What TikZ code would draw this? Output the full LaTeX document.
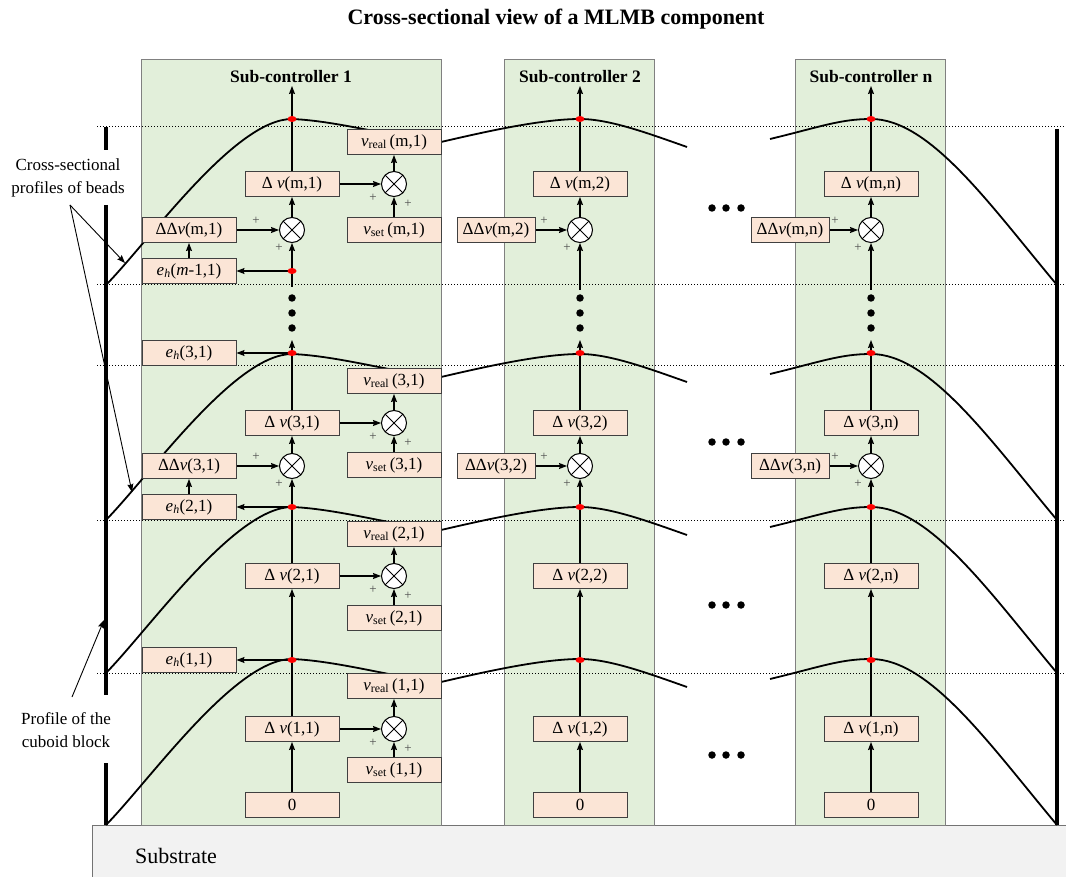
\documentclass[tikz,border=0pt]{standalone}
\usepackage{fontspec}
\setmainfont{Liberation Serif}
\usetikzlibrary{arrows.meta,shapes.geometric}
\definecolor{colgreen}{HTML}{E2EFDA}
\definecolor{boxpeach}{HTML}{FBE5D6}
\definecolor{subgray}{HTML}{F2F2F2}

\begin{document}
\begin{tikzpicture}[x=1pt,y=-1pt,>={Stealth[length=8pt,width=6pt,inset=1pt]},
    box/.style={draw=black!75,fill=boxpeach,line width=1pt,minimum width=94pt,minimum height=25pt,inner sep=0pt,font=\fontsize{17}{20}\selectfont},
    sbox/.style={box,minimum width=78pt},
    sum/.style={circle,draw,fill=white,line width=1pt,minimum size=25pt,inner sep=0pt,
        path picture={\draw[line width=1pt] (path picture bounding box.north west) -- (path picture bounding box.south east)
                      (path picture bounding box.north east) -- (path picture bounding box.south west);}},
    pk/.style={ellipse,fill=red,minimum width=9pt,minimum height=6pt,inner sep=0pt},
    bul/.style={circle,fill=black,minimum size=7.5pt,inner sep=0pt},
    pl/.style={font=\fontsize{13}{13}\selectfont,text=black!70,inner sep=0pt},
    lnk/.style={->,line width=1.1pt},
    bead/.style={line width=1.8pt},
    layer/.style={dotted,line width=1pt},
    col/.style={draw=black!50,fill=colgreen,line width=0.8pt},
    hd/.style={font=\fontsize{17.5}{20}\selectfont\bfseries},
    note/.style={font=\fontsize{17}{23}\selectfont,align=center,inner sep=0pt}]

\useasboundingbox (0,0) rectangle (1066,877);

% substrate and sub-controller columns
\draw[draw=black!55,fill=subgray,line width=1pt] (92,825) rectangle (1075,885);
\node[font=\fontsize{22}{24}\selectfont] (sub) at (176,856) {Substrate};
\foreach \xa/\xb in {141/441,504/654,795/945}
    \draw[col] (\xa,59) rectangle (\xb,825);

\node[font=\fontsize{22}{26}\selectfont\bfseries] (title) at (556,19) {Cross-sectional view of a MLMB component};
\node[hd] (hd1) at (291,77) {Sub-controller 1};
\node[hd] (hd2) at (580,77) {Sub-controller 2};
\node[hd] (hdn) at (871,77) {Sub-controller n};

% layer boundaries
\foreach \y in {127,285,366,520,673}
    \draw[layer] (97,\y) -- (1066,\y);

% cuboid block
\draw[line width=4pt] (106,127) -- (106,150) (106,205) -- (106,695) (106,763) -- (106,825);
\draw[line width=4pt] (1057,129) -- (1057,825);

% bead profiles
\foreach \b [evaluate=\b as \p using int(\b-166)] in {825,673,520,285} {
    \draw[bead] (106,\b) .. controls (150,\b-45) and (235,\p) .. (292,\p)
        .. controls (340,\p+2) and (400,\p+20) .. (441,\p+23)
        .. controls (480,\p+14) and (540,\p) .. (580,\p)
        .. controls (610,\p) and (650,\p+15) .. (687,\p+28);
    \draw[bead] (770,\p+20) .. controls (820,\p+8) and (840,\p) .. (871,\p)
        .. controls (930,\p) and (990,\b-80) .. (1057,\b);
}

% sub-controller 1
\node[box] (z1) at (292,805) {0};
\node[box] (d11) at (292,729) {Δ \textit{v}(1,1)};
\node[sum] (q11) at (394,729) {};
\node[box] (vs11) at (394,770) {\textit{v}\textsubscript{set}\,(1,1)};
\node[box] (vr11) at (394,686) {\textit{v}\textsubscript{real}\,(1,1)};
\node[box] (e11) at (189,660) {\textit{e}\textsubscript{\textit{h}}(1,1)};

\node[box] (d21) at (292,576) {Δ \textit{v}(2,1)};
\node[sum] (q21) at (394,576) {};
\node[box] (vs21) at (394,618) {\textit{v}\textsubscript{set}\,(2,1)};
\node[box] (vr21) at (394,534) {\textit{v}\textsubscript{real}\,(2,1)};
\node[box] (e21) at (189,507) {\textit{e}\textsubscript{\textit{h}}(2,1)};

\node[box] (dd31) at (189,466) {ΔΔ\textit{v}(3,1)};
\node[sum] (a31) at (292,466) {};
\node[box] (d31) at (292,423) {Δ \textit{v}(3,1)};
\node[sum] (q31) at (394,423) {};
\node[box] (vs31) at (394,465) {\textit{v}\textsubscript{set}\,(3,1)};
\node[box] (vr31) at (394,381) {\textit{v}\textsubscript{real}\,(3,1)};
\node[box] (e31) at (189,353) {\textit{e}\textsubscript{\textit{h}}(3,1)};

\node[box] (em1) at (189,271) {\textit{e}\textsubscript{\textit{h}}(\textit{m}-1,1)};
\node[box] (ddm1) at (189,230) {ΔΔ\textit{v}(m,1)};
\node[sum] (am1) at (292,230) {};
\node[box] (dm1) at (292,184) {Δ \textit{v}(m,1)};
\node[sum] (qm1) at (394,184) {};
\node[box] (vsm1) at (394,230) {\textit{v}\textsubscript{set}\,(m,1)};
\node[box] (vrm1) at (394,142) {\textit{v}\textsubscript{real}\,(m,1)};

\coordinate (pk11) at (292,660);
\coordinate (pk21) at (292,507);
\coordinate (pk31) at (292,353);
\coordinate (pkx1) at (292,271);
\coordinate (pkm1) at (292,119);
\coordinate (up1) at (292,340);
\coordinate (low1) at (292,287);
\coordinate (top1) at (292,86);

\draw[lnk] (z1) -- (d11);
\draw[lnk] (d11) -- (q11);
\draw[lnk] (vs11) -- (q11);
\draw[lnk] (q11) -- (vr11);
\draw[lnk] (d11) -- (d21);
\draw[lnk] (pk11) -- (e11);
\draw[lnk] (d21) -- (q21);
\draw[lnk] (vs21) -- (q21);
\draw[lnk] (q21) -- (vr21);
\draw[lnk] (d21) -- (a31);
\draw[lnk] (pk21) -- (e21);
\draw[lnk] (e21) -- (dd31);
\draw[lnk] (dd31) -- (a31);
\draw[lnk] (a31) -- (d31);
\draw[lnk] (d31) -- (q31);
\draw[lnk] (vs31) -- (q31);
\draw[lnk] (q31) -- (vr31);
\draw[lnk] (d31) -- (up1);
\draw[lnk] (pk31) -- (e31);
\draw[lnk] (low1) -- (am1);
\draw[lnk] (pkx1) -- (em1);
\draw[lnk] (em1) -- (ddm1);
\draw[lnk] (ddm1) -- (am1);
\draw[lnk] (am1) -- (dm1);
\draw[lnk] (dm1) -- (qm1);
\draw[lnk] (vsm1) -- (qm1);
\draw[lnk] (qm1) -- (vrm1);
\draw[lnk] (dm1) -- (top1);

% sub-controllers 2 and n
\foreach \cx/\c/\dx in {580/2/496,871/n/790} {
    \node[box] (z\c) at (\cx,805) {0};
    \node[box] (d1\c) at (\cx,729) {Δ \textit{v}(1,\c)};
    \node[box] (d2\c) at (\cx,576) {Δ \textit{v}(2,\c)};
    \node[sum] (a3\c) at (\cx,466) {};
    \node[sbox] (dd3\c) at (\dx,466) {ΔΔ\textit{v}(3,\c)};
    \node[box] (d3\c) at (\cx,423) {Δ \textit{v}(3,\c)};
    \node[sum] (am\c) at (\cx,230) {};
    \node[sbox] (ddm\c) at (\dx,230) {ΔΔ\textit{v}(m,\c)};
    \node[box] (dm\c) at (\cx,184) {Δ \textit{v}(m,\c)};
    \coordinate (pk1\c) at (\cx,660);
    \coordinate (pk2\c) at (\cx,507);
    \coordinate (pk3\c) at (\cx,353);
    \coordinate (pkm\c) at (\cx,119);
    \coordinate (up\c) at (\cx,340);
    \coordinate (low\c) at (\cx,290);
    \coordinate (top\c) at (\cx,86);
    \draw[lnk] (z\c) -- (d1\c);
    \draw[lnk] (d1\c) -- (d2\c);
    \draw[lnk] (d2\c) -- (a3\c);
    \draw[lnk] (dd3\c) -- (a3\c);
    \draw[lnk] (a3\c) -- (d3\c);
    \draw[lnk] (d3\c) -- (up\c);
    \draw[lnk] (low\c) -- (am\c);
    \draw[lnk] (ddm\c) -- (am\c);
    \draw[lnk] (am\c) -- (dm\c);
    \draw[lnk] (dm\c) -- (top\c);
}

% plus signs
\foreach \y in {729,576,423,184} {
    \node[pl] (pa\y) at (373,\y+14) {+};
    \node[pl] (pb\y) at (408,\y+20) {+};
}
\foreach \sx in {292,580,871}
    \foreach \y in {466,230} {
        \node[pl] (pc\sx\y) at (\sx-36,\y-9) {+};
        \node[pl] (pd\sx\y) at (\sx-13,\y+18) {+};
    }

% measured heights
\foreach \n in {pk11,pk21,pk31,pkx1,pkm1,pk12,pk22,pk32,pkm2,pk1n,pk2n,pk3n,pkmn}
    \node[pk] (dot\n) at (\n) {};

% ellipses
\foreach \x in {292,580,871}
    \foreach \y in {298,313,328}
        \node[bul] (v\x\y) at (\x,\y) {};
\foreach \y in {208,442,605,755}
    \foreach \x in {712,726,741}
        \node[bul] (h\x\y) at (\x,\y) {};

% annotations
\node[note] (cs) at (68,178) {Cross-sectional\\profiles of beads};
\coordinate (csa) at (70,205);
\coordinate (csb) at (125,263);
\coordinate (csc) at (132,492);
\draw[->,line width=0.9pt] (csa) -- (csb);
\draw[->,line width=0.9pt] (csa) -- (csc);
\node[note] (pc) at (66,730) {Profile of the\\cuboid block};
\coordinate (pca) at (72,697);
\coordinate (pcb) at (104,620);
\draw[->,line width=0.9pt] (pca) -- (pcb);
\end{tikzpicture}
\end{document}
